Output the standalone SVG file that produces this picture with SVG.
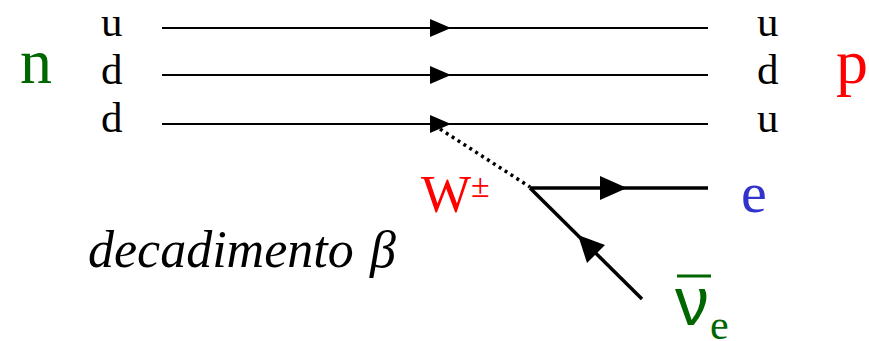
<svg xmlns="http://www.w3.org/2000/svg" width="869" height="341" viewBox="0 0 869 341">
<style>
.s{font-family:"Liberation Serif","DejaVu Serif",serif}
.q{font-size:43px;fill:#000}
.ln{stroke:#000;stroke-width:2;fill:none}
.thick{stroke:#000;stroke-width:3.5;fill:none}
.ah{fill:#000}
</style>
<rect width="869" height="341" fill="#fff"/>
<g id="connectors">
<line class="ln" x1="162" y1="28" x2="708" y2="28"/>
<polygon class="ah" points="430,19 451,28 430,37"/>
<line class="ln" x1="162" y1="75" x2="708" y2="75"/>
<polygon class="ah" points="430,66 451,75 430,84"/>
<line class="ln" x1="162" y1="124" x2="708" y2="124"/>
<polygon class="ah" points="430,115 451,124 430,133"/>
<line x1="440" y1="129" x2="530" y2="187" stroke="#000" stroke-width="3.5" stroke-dasharray="3,4"/>
<line class="thick" x1="530" y1="188" x2="708" y2="188"/>
<polygon class="ah" points="600,176 627,188 600,200"/>
<line class="thick" x1="530" y1="188" x2="642" y2="299"/>
<polygon class="ah" points="578,235 587,263 605,245"/>
</g>
<g id="neutron"><text class="s" x="20" y="83" font-size="64" fill="#006600">n</text></g>
<g id="quarks-in" class="s">
<text class="q" x="101" y="36">u</text>
<text class="q" x="101" y="84">d</text>
<text class="q" x="101" y="132">d</text>
</g>
<g id="quarks-out" class="s">
<text class="q" x="757" y="36">u</text>
<text class="q" x="757" y="84">d</text>
<text class="q" x="757" y="132">u</text>
</g>
<g id="proton"><text class="s" x="836" y="83" font-size="64" fill="#ff0000">p</text></g>
<g id="W"><text class="s" x="421" y="212" fill="#ff0000" font-size="53">W<tspan font-size="34" dy="-15">±</tspan></text></g>
<g id="electron"><text class="s" x="741" y="212" fill="#3333cc" font-size="58">e</text></g>
<g id="antineutrino">
<line x1="677" y1="276" x2="711" y2="276" stroke="#006600" stroke-width="3"/>
<text x="675" y="325" fill="#006600" font-size="68" font-family="'Liberation Sans','DejaVu Sans',sans-serif">ν</text>
<text class="s" x="710" y="339" fill="#006600" font-size="42">e</text>
</g>
<g id="label"><text class="s" x="88" y="267" font-size="52" font-style="italic">decadimento<tspan x="370">β</tspan></text></g>
</svg>
